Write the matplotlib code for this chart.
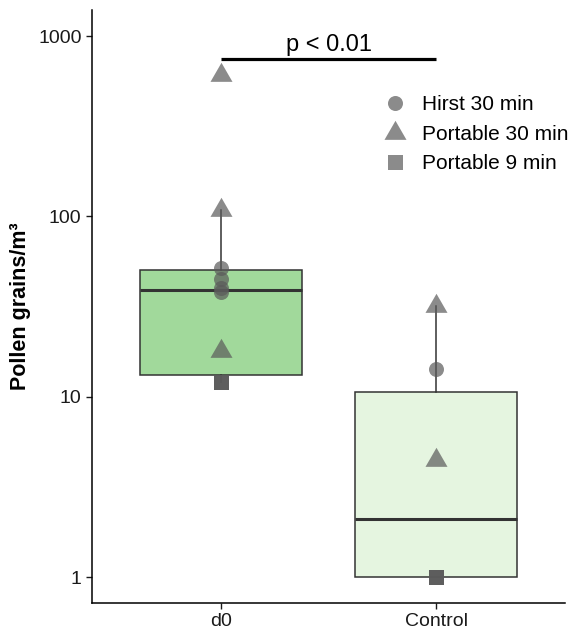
import numpy as np
import matplotlib
matplotlib.use('Agg')
import matplotlib.pyplot as plt
from matplotlib import cbook
from matplotlib.lines import Line2D

plt.rcParams['font.family'] = ['Liberation Sans', 'DejaVu Sans']

# data
groups = ['d0', 'Control']
d0_vals = [12, 12, 12, 18, 38, 40, 45, 52, 108, 608]
d0_method = ['Portable 9 min', 'Portable 9 min', 'Portable 9 min', 'Portable 30 min',
             'Hirst 30 min', 'Hirst 30 min', 'Hirst 30 min', 'Hirst 30 min',
             'Portable 30 min', 'Portable 30 min']
ctrl_vals = [1, 1, 1, 4.45, 14.3, 32]
ctrl_method = ['Portable 9 min', 'Portable 9 min', 'Portable 9 min', 'Portable 30 min',
               'Hirst 30 min', 'Portable 30 min']
methods = ['Hirst 30 min', 'Portable 30 min', 'Portable 9 min']
fills = ['#a1d99b', '#e5f5e0']
p_text = 'p < 0.01'
p_y = 750

# equilateral triangle like ggplot shape 17
tri = [(-1, -0.577), (1, -0.577), (0, 1.155)]
shapes = {'Hirst 30 min': ('o', 10.8), 'Portable 30 min': (tri, 18.3), 'Portable 9 min': ('s', 10.8)}
pt_col = '#5a5a5a'

fig = plt.figure(figsize=(5.69, 6.32), dpi=100)
ax = fig.add_axes([0.1617, 0.0459, 0.8313, 0.9383])

# box stats on log10 scale (like ggplot scale_y_log10), then back-transform
stats = []
for vals, g in zip([d0_vals, ctrl_vals], groups):
    s = cbook.boxplot_stats(np.log10(vals), whis=1.5)[0]
    for k in ['med', 'q1', 'q3', 'whislo', 'whishi', 'mean']:
        s[k] = 10 ** s[k]
    s['fliers'] = []
    s['label'] = g
    stats.append(s)

bp = ax.bxp(stats, positions=[1, 2], widths=0.75, patch_artist=True, showcaps=False,
            showfliers=False,
            boxprops=dict(edgecolor='#333333', linewidth=1.1),
            whiskerprops=dict(color='#333333', linewidth=1.1),
            medianprops=dict(color='#333333', linewidth=2.2))
for patch, c in zip(bp['boxes'], fills):
    patch.set_facecolor(c)

for i, (vals, meth) in enumerate([(d0_vals, d0_method), (ctrl_vals, ctrl_method)]):
    for v, m in zip(vals, meth):
        mk, ms = shapes[m]
        ax.plot([i + 1], [v], marker=mk, markersize=ms, color=pt_col, alpha=0.7,
                linestyle='none', markeredgewidth=0, zorder=5)

# significance bar
ax.plot([1, 2], [p_y, p_y], color='black', linewidth=2.3, solid_capstyle='butt')
ax.text(1.5, p_y * 1.03, p_text, ha='center', va='bottom', fontsize=17)

ax.set_yscale('log')
ax.set_ylim(0.718, 1396)
ax.set_xlim(0.4, 2.6)
ax.set_yticks([1, 10, 100, 1000])
ax.set_yticklabels(['1', '10', '100', '1000'])
ax.yaxis.set_minor_locator(matplotlib.ticker.NullLocator())
ax.set_xticks([1, 2])
ax.set_xticklabels(groups)
ax.tick_params(labelsize=14, colors='#1a1a1a', length=4, width=1.0)
ax.set_ylabel('Pollen grains/m³', fontsize=15.5, fontweight='bold', labelpad=5)
for sp in ['top', 'right']:
    ax.spines[sp].set_visible(False)
for sp in ['left', 'bottom']:
    ax.spines[sp].set_linewidth(1.1)

handles = []
for m in methods:
    mk, ms = shapes[m]
    handles.append(Line2D([], [], marker=mk, markersize=ms, color=pt_col, alpha=0.7,
                          linestyle='none', markeredgewidth=0))
ax.legend(handles, methods, loc='upper left', bbox_to_anchor=(0.578, 0.87), frameon=False,
          fontsize=15, handletextpad=0.3, labelspacing=0.5, borderaxespad=0)

fig.savefig('out.png', dpi=100)
